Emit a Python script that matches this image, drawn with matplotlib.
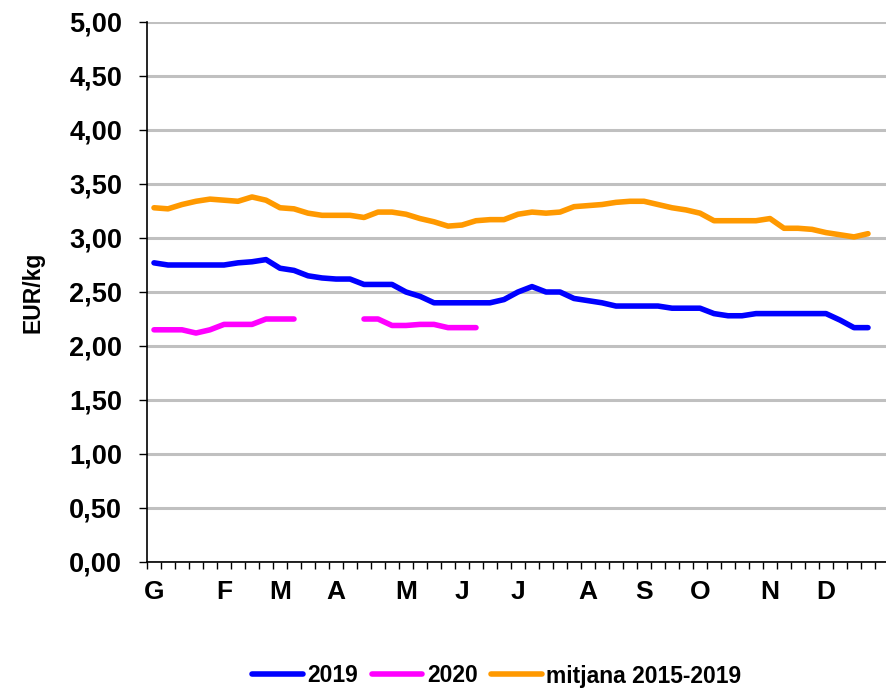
import numpy as np
import matplotlib.pyplot as plt

plt.rcParams['font.family'] = ['Liberation Sans', 'DejaVu Sans']
plt.rcParams['font.weight'] = 'bold'

# weekly prices, EUR/kg (53 week slots, 52 weeks of data)
avg_2015_2019 = [3.28, 3.27, 3.31, 3.34, 3.36, 3.35, 3.34, 3.38, 3.35, 3.28,
                 3.27, 3.23, 3.21, 3.21, 3.21, 3.19, 3.24, 3.24, 3.22, 3.18,
                 3.15, 3.11, 3.12, 3.16, 3.17, 3.17, 3.22, 3.24, 3.23, 3.24,
                 3.29, 3.30, 3.31, 3.33, 3.34, 3.34, 3.31, 3.28, 3.26, 3.23,
                 3.16, 3.16, 3.16, 3.16, 3.18, 3.09, 3.09, 3.08, 3.05, 3.03,
                 3.01, 3.04]
y2019 = [2.77, 2.75, 2.75, 2.75, 2.75, 2.75, 2.77, 2.78, 2.80, 2.72,
         2.70, 2.65, 2.63, 2.62, 2.62, 2.57, 2.57, 2.57, 2.50, 2.46,
         2.40, 2.40, 2.40, 2.40, 2.40, 2.43, 2.50, 2.55, 2.50, 2.50,
         2.44, 2.42, 2.40, 2.37, 2.37, 2.37, 2.37, 2.35, 2.35, 2.35,
         2.30, 2.28, 2.28, 2.30, 2.30, 2.30, 2.30, 2.30, 2.30, 2.24,
         2.17, 2.17]
y2020 = [2.15, 2.15, 2.15, 2.12, 2.15, 2.20, 2.20, 2.20, 2.25, 2.25,
         2.25, np.nan, np.nan, np.nan, np.nan, 2.25, 2.25, 2.19, 2.19, 2.20,
         2.20, 2.17, 2.17, 2.17]

n_slots = 53
month_labels = ['G', 'F', 'M', 'A', 'M', 'J', 'J', 'A', 'S', 'O', 'N', 'D']
month_weeks = [0, 5, 9, 13, 18, 22, 26, 31, 35, 39, 44, 48]

fig = plt.figure(figsize=(8.86, 6.9), dpi=100)
ax = fig.add_axes([147/886, 1 - 562/690, 742/886, 540/690])

lw = 4.0
ax.plot(np.arange(len(y2019)), y2019, color='#0000FF', lw=lw, label='2019',
        solid_capstyle='round', solid_joinstyle='round', zorder=3)
ax.plot(np.arange(len(y2020)), y2020, color='#FF00FF', lw=lw, label='2020',
        solid_capstyle='round', solid_joinstyle='round', zorder=3)
ax.plot(np.arange(len(avg_2015_2019)), avg_2015_2019, color='#FF9900', lw=lw,
        label='mitjana 2015-2019', solid_capstyle='round',
        solid_joinstyle='round', zorder=3)

ax.set_xlim(-0.5, n_slots - 0.5)
ax.set_ylim(0, 5)
yt = np.arange(0, 5.01, 0.5)
ax.set_yticks(yt)
ax.set_yticklabels([f'{v:.2f}'.replace('.', ',') for v in yt], fontsize=19.5, fontweight='bold')
ax.yaxis.grid(True, color='#c0c0c0', lw=2.2)
ax.set_axisbelow(True)

ax.set_xticks(month_weeks)
ax.set_xticklabels(month_labels, fontsize=19, fontweight='bold')
ax.set_xticks(np.arange(-0.5, n_slots), minor=True)
ax.tick_params(axis='x', which='major', length=0, pad=13)
ax.tick_params(axis='x', which='minor', length=5, width=1, direction='out')
ax.tick_params(axis='y', length=6, width=1, direction='out', pad=12)

for s in ['top', 'right']:
    ax.spines[s].set_visible(False)
ax.spines['left'].set_linewidth(1.2)
ax.spines['bottom'].set_linewidth(1.2)

ax.set_ylabel('EUR/kg', fontsize=16.5, fontweight='bold', labelpad=18)

fig.legend(loc='center', bbox_to_anchor=(497/886, 1 - 676/690), ncol=3,
           frameon=False, prop={'size': 16.5, 'weight': 'bold'},
           handlelength=2.2, handletextpad=0.2, columnspacing=0.6)

plt.savefig('out.png', dpi=100)
